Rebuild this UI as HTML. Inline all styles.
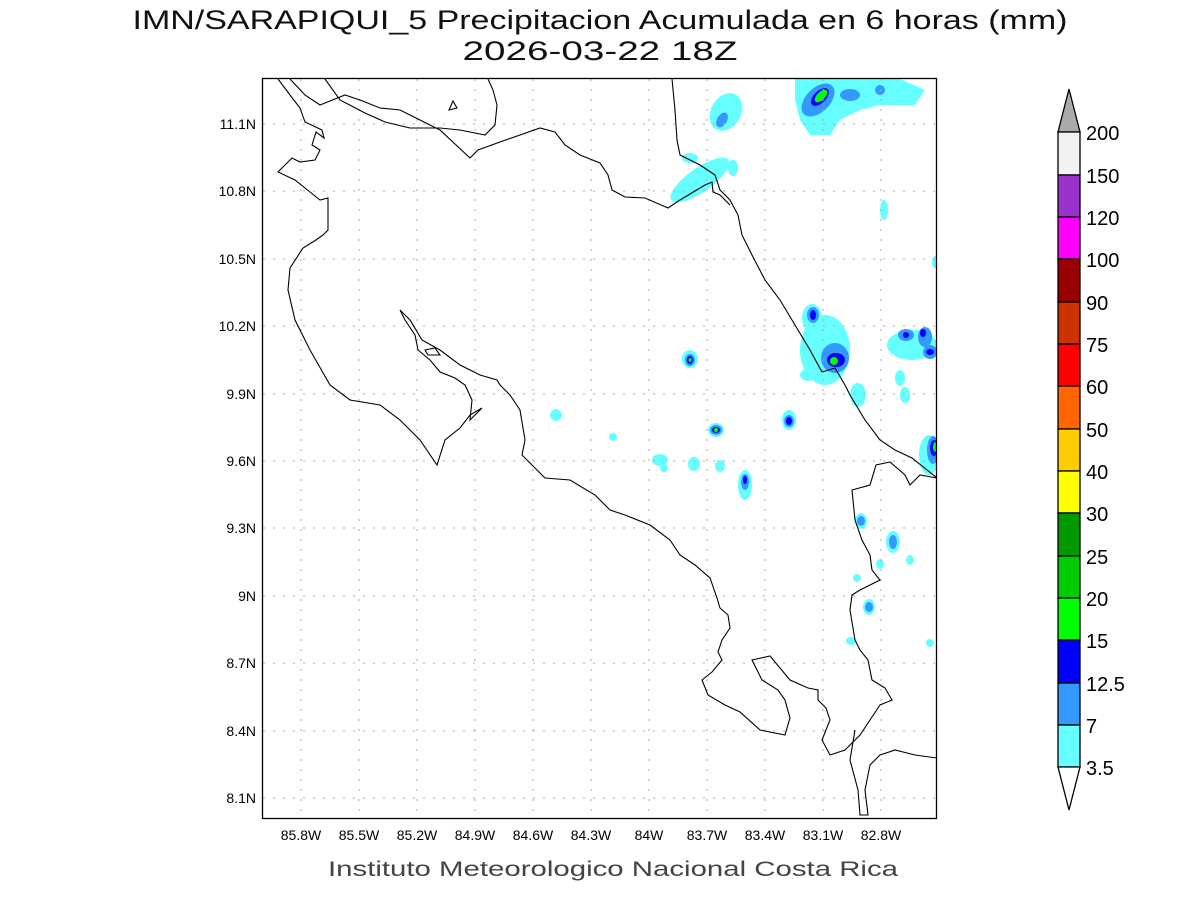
<!DOCTYPE html>
<html><head><style>body{margin:0;background:#fff}svg{display:block}</style></head><body>
<svg width="1200" height="900" xmlns="http://www.w3.org/2000/svg" font-family="Liberation Sans, sans-serif">
<rect width="1200" height="900" fill="#fff"/>
<text x="600" y="29" font-size="27" text-anchor="middle" textLength="935" lengthAdjust="spacingAndGlyphs" fill="#111">IMN/SARAPIQUI_5 Precipitacion Acumulada en 6 horas (mm)</text>
<text x="600" y="60" font-size="27" text-anchor="middle" textLength="275" lengthAdjust="spacingAndGlyphs" fill="#111">2026-03-22 18Z</text>
<text x="613" y="876" font-size="21" text-anchor="middle" textLength="570" lengthAdjust="spacingAndGlyphs" fill="#444">Instituto Meteorologico Nacional Costa Rica</text>
<defs><clipPath id="c"><rect x="263" y="79" width="674" height="740"/></clipPath></defs>
<g clip-path="url(#c)">
<g fill="#66ffff">
<path d="M795 79 L860 79 L900 79 L925 90 L915 105 L880 105 L860 110 L840 120 L830 135 L810 135 L800 120 L795 100Z"/>
<ellipse cx="726" cy="112" rx="15" ry="20" transform="rotate(30 726 112)"/>
<ellipse cx="700" cy="180" rx="35" ry="12" transform="rotate(-35 700 180)"/>
<ellipse cx="690" cy="158" rx="8" ry="5"/><ellipse cx="733" cy="168" rx="5" ry="8"/>
<ellipse cx="884" cy="210" rx="4" ry="10"/><ellipse cx="935" cy="262" rx="3" ry="6"/>
<ellipse cx="825" cy="350" rx="25" ry="35"/><ellipse cx="812" cy="318" rx="10" ry="14"/>
<ellipse cx="808" cy="375" rx="8" ry="6"/><ellipse cx="858" cy="395" rx="8" ry="12"/>
<ellipse cx="912" cy="345" rx="25" ry="15"/><ellipse cx="900" cy="378" rx="5" ry="8"/><ellipse cx="905" cy="395" rx="5" ry="8"/>
<ellipse cx="929" cy="455" rx="10" ry="20"/>
<ellipse cx="690" cy="359" rx="8" ry="9"/><ellipse cx="556" cy="415" rx="6" ry="6"/><ellipse cx="613" cy="437" rx="4" ry="4"/>
<ellipse cx="716" cy="430" rx="8" ry="7"/><ellipse cx="789" cy="420" rx="7" ry="10"/>
<ellipse cx="694" cy="464" rx="6" ry="7"/><ellipse cx="720" cy="466" rx="5" ry="6"/><ellipse cx="745" cy="485" rx="7" ry="15"/>
<ellipse cx="660" cy="460" rx="8" ry="6"/><ellipse cx="664" cy="468" rx="4" ry="4"/>
<ellipse cx="861" cy="521" rx="6" ry="8"/><ellipse cx="893" cy="542" rx="7" ry="11"/><ellipse cx="880" cy="564" rx="4" ry="5"/><ellipse cx="910" cy="560" rx="4" ry="5"/>
<ellipse cx="869" cy="607" rx="6" ry="8"/><ellipse cx="851" cy="641" rx="5" ry="4"/><ellipse cx="930" cy="643" rx="4" ry="4"/><ellipse cx="857" cy="578" rx="4" ry="4"/>
</g>
<g fill="#3399ff">
<ellipse cx="818" cy="100" rx="12" ry="20" transform="rotate(45 818 100)"/><ellipse cx="850" cy="95" rx="10" ry="6"/><ellipse cx="880" cy="90" rx="5" ry="5"/>
<ellipse cx="722" cy="120" rx="5" ry="8" transform="rotate(30 722 120)"/>
<ellipse cx="835" cy="358" rx="14" ry="15"/><ellipse cx="813" cy="315" rx="6" ry="8"/>
<ellipse cx="906" cy="335" rx="8" ry="6"/><ellipse cx="925" cy="337" rx="7" ry="10"/><ellipse cx="930" cy="352" rx="7" ry="7"/>
<ellipse cx="933" cy="450" rx="6" ry="14"/>
<ellipse cx="690" cy="360" rx="5" ry="6"/><ellipse cx="716" cy="430" rx="6" ry="5"/><ellipse cx="789" cy="421" rx="5" ry="6"/>
<ellipse cx="745" cy="482" rx="4" ry="8"/><ellipse cx="861" cy="521" rx="4" ry="5"/><ellipse cx="893" cy="542" rx="4" ry="7"/><ellipse cx="869" cy="607" rx="4" ry="5"/>
</g>
<g fill="#0000ff">
<ellipse cx="820" cy="97" rx="6" ry="11" transform="rotate(45 820 97)"/><ellipse cx="836" cy="360" rx="9" ry="7"/>
<ellipse cx="813" cy="315" rx="3" ry="5"/><ellipse cx="906" cy="335" rx="3" ry="3"/><ellipse cx="923" cy="333" rx="3" ry="4"/><ellipse cx="930" cy="352" rx="4" ry="3"/>
<ellipse cx="934" cy="448" rx="4" ry="8"/><ellipse cx="690" cy="360" rx="3" ry="4"/><ellipse cx="716" cy="430" rx="4" ry="3"/><ellipse cx="789" cy="421" rx="3" ry="4"/><ellipse cx="745" cy="480" rx="2" ry="4"/>
</g>
<g fill="#00ff00">
<ellipse cx="821" cy="96" rx="4" ry="8" transform="rotate(45 821 96)"/><ellipse cx="834" cy="361" rx="4" ry="4"/>
<ellipse cx="935" cy="447" rx="2" ry="5"/><ellipse cx="716" cy="430" rx="2" ry="2"/><ellipse cx="690" cy="360" rx="1.5" ry="2"/>
</g>
<g stroke="#aaa" stroke-width="1" stroke-dasharray="2,8">
<path d="M301 79V819M359 79V819M417 79V819M475 79V819M533 79V819M591 79V819M649 79V819M707 79V819M765 79V819M823 79V819M881 79V819"/>
<path d="M263 124H937M263 191H937M263 259H937M263 326H937M263 394H937M263 461H937M263 528H937M263 596H937M263 663H937M263 731H937M263 798H937"/>
</g>
<g fill="none" stroke="#000" stroke-width="1.1">
<path d="M278 79L290 95L300 108L305 122L322 130L324 138L316 132L312 145L320 150L315 160L300 162L292 158L278 172L295 180L310 192L320 200L328 198L328 230L323 235L316 240L303 248L290 268L288 290L295 320L310 350L330 385L350 400L380 405L400 420L420 440L437 465L445 440L460 428L470 415L482 408L470 420L472 400L465 385L455 378L440 372L430 360L418 350L415 335L405 320L400 310L410 320L422 340L440 350L460 365L480 375L497 380L500 385L510 395L520 410L525 440L522 455L532 465L545 478L570 480L595 495L610 510L625 515L650 525L670 540L680 555L695 565L710 578L717 598L720 608L728 615L730 628L722 640L718 652L722 660L712 672L702 680L708 695L725 705L740 712L760 730L785 735L790 718L785 700L778 690L762 680L752 660L770 656L790 680L808 688L818 690L818 700L826 708L830 720L822 740L830 755L845 750L860 735L870 720L880 705L892 700L885 688L872 680L868 660L860 650L855 640L850 610L852 595L860 590L870 585L880 580L872 570L870 555L862 540L855 520L852 490L870 485L876 465L890 462L905 475L910 485L920 475L937 478"/>
<path d="M425 350L435 348L440 355L428 355Z"/>
<path d="M855 730L850 760L858 790L860 815L868 815L865 790L870 765L880 755L895 750L915 755L937 758"/>
<path d="M672 79L675 110L677 140L680 155L700 165L715 175L720 190L730 200L738 215L742 235L752 255L765 280L780 300L795 325L810 350L822 372L835 368L845 385L850 395L865 420L880 440L895 450L912 458L937 478"/>
<path d="M290 79L305 95L320 105L345 95L360 100L380 108L400 110L420 120L440 130L470 158L478 150L500 142L520 135L540 128L555 132L565 145L580 155L600 163L608 175L612 190L625 197L645 198L668 208L680 200L705 185L712 182L713 192L720 195L730 205"/>
<path d="M325 79L340 100L365 113L385 122L410 128L440 128L460 130L485 135L495 125L497 105L493 90L488 79"/>
<path d="M449 110L453 101L457 108Z"/>
</g>
</g>
<rect x="262.5" y="78.5" width="674" height="740" fill="none" stroke="#000" stroke-width="1.3"/>
<g font-size="14" fill="#000" text-anchor="end">
<text x="256" y="129">11.1N</text><text x="256" y="196">10.8N</text><text x="256" y="264">10.5N</text><text x="256" y="331">10.2N</text><text x="256" y="399">9.9N</text><text x="256" y="466">9.6N</text><text x="256" y="533">9.3N</text><text x="256" y="601">9N</text><text x="256" y="668">8.7N</text><text x="256" y="736">8.4N</text><text x="256" y="803">8.1N</text>
</g>
<g font-size="14" text-anchor="middle">
<text x="301" y="840">85.8W</text><text x="359" y="840">85.5W</text><text x="417" y="840">85.2W</text><text x="475" y="840">84.9W</text><text x="533" y="840">84.6W</text><text x="591" y="840">84.3W</text><text x="649" y="840">84W</text><text x="707" y="840">83.7W</text><text x="765" y="840">83.4W</text><text x="823" y="840">83.1W</text><text x="881" y="840">82.8W</text>
</g>
<g stroke="#000" stroke-width="1.3">
<path d="M1058 132L1069 89L1080 132Z" fill="#aaaaaa"/>
<rect x="1058" y="132" width="22" height="43" fill="#f2f2f2"/>
<rect x="1058" y="175" width="22" height="42" fill="#9933cc"/>
<rect x="1058" y="217" width="22" height="42" fill="#ff00ff"/>
<rect x="1058" y="259" width="22" height="43" fill="#990000"/>
<rect x="1058" y="302" width="22" height="42" fill="#cc3300"/>
<rect x="1058" y="344" width="22" height="42" fill="#ff0000"/>
<rect x="1058" y="386" width="22" height="43" fill="#ff6600"/>
<rect x="1058" y="429" width="22" height="42" fill="#ffcc00"/>
<rect x="1058" y="471" width="22" height="42" fill="#ffff00"/>
<rect x="1058" y="513" width="22" height="43" fill="#009900"/>
<rect x="1058" y="556" width="22" height="42" fill="#00cc00"/>
<rect x="1058" y="598" width="22" height="42" fill="#00ff00"/>
<rect x="1058" y="640" width="22" height="43" fill="#0000ff"/>
<rect x="1058" y="683" width="22" height="42" fill="#3399ff"/>
<rect x="1058" y="725" width="22" height="42" fill="#66ffff"/>
<path d="M1058 767L1069 810L1080 767Z" fill="#fff"/>
</g>
<g font-size="20">
<text x="1086" y="140">200</text><text x="1086" y="183">150</text><text x="1086" y="225">120</text><text x="1086" y="267">100</text><text x="1086" y="310">90</text><text x="1086" y="352">75</text><text x="1086" y="394">60</text><text x="1086" y="437">50</text><text x="1086" y="479">40</text><text x="1086" y="521">30</text><text x="1086" y="564">25</text><text x="1086" y="606">20</text><text x="1086" y="648">15</text><text x="1086" y="691">12.5</text><text x="1086" y="733">7</text><text x="1086" y="775">3.5</text>
</g>
</svg>
</body></html>
